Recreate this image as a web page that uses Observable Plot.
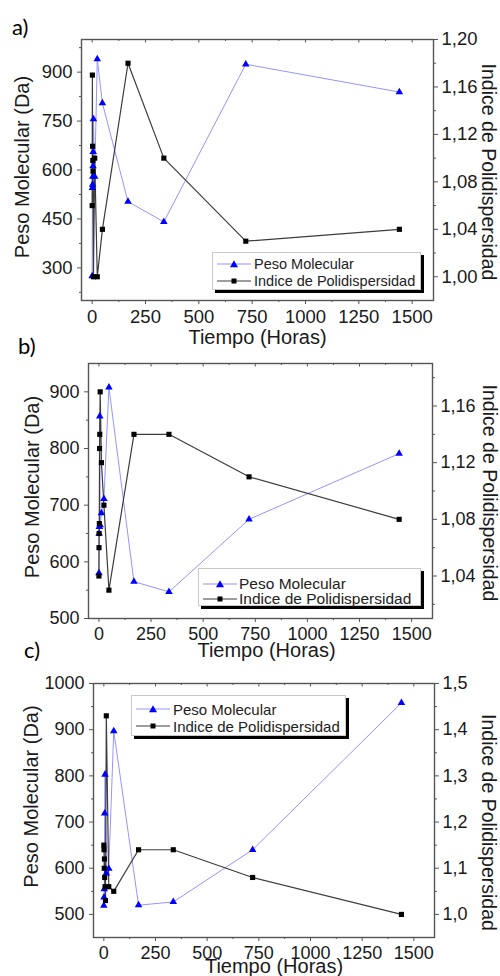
<!DOCTYPE html>
<html><head><meta charset="utf-8">
<script src="https://cdn.jsdelivr.net/npm/d3@7"></script>
<script src="https://cdn.jsdelivr.net/npm/@observablehq/plot@0.6"></script>
<style>
body{margin:0;background:#fff;}
#root{position:relative;width:500px;height:976px;overflow:hidden;font-family:"Liberation Sans",Arial,sans-serif;}
.panel{position:absolute;left:0;}
.tag{position:absolute;font-family:Lato,"Open Sans",sans-serif;font-size:22px;line-height:22px;color:#000;}
.legend{position:absolute;background:#fff;border:1px solid #c8c8c8;box-shadow:3px 3px 0 #000;box-sizing:border-box;}
.legend .row{position:absolute;left:0;height:16px;display:flex;align-items:center;white-space:nowrap;color:#222;}
.legend svg{display:block;}
</style></head><body><div id="root"></div>
<script>
// ---------- data ----------
const panelTags = ["a)", "b)", "c)"];
const xTitle = "Tiempo (Horas)";
const yTitle = "Peso Molecular (Da)";
const y2Title = "Indice de Polidispersidad";
const legendLabels = ["Peso Molecular", "Indice de Polidispersidad"];

const horasDomain = [-50, 1600];
const horasTicks = [0, 250, 500, 750, 1000, 1250, 1500];
const horasMinor = [125, 375, 625, 875, 1125, 1375];

// panel a
const horasPesoA = [0, 1, 2, 3, 4, 5, 6, 12, 24, 48, 168, 336, 720, 1440];
const pesoA      = [275, 545, 555, 580, 612, 656, 756, 580, 940, 805, 503, 441, 924, 839];
const horasPdiA  = [0, 1, 2, 3, 4, 6, 12, 24, 48, 168, 336, 720, 1440];
const pdiA       = [1.06, 1.17, 1.11, 1.098, 1.089, 1.00, 1.10, 1.00, 1.04, 1.18, 1.10, 1.03, 1.04];
const pesoDomainA = [200, 1000];
const pdiDomainA  = [0.98, 1.20];
const pesoTicksA  = [300, 450, 600, 750, 900];
const pesoMinorA  = [225, 375, 525, 675, 825, 975];
const pdiTicksA   = [1.00, 1.04, 1.08, 1.12, 1.16, 1.20];
const pdiMinorA   = [1.02, 1.06, 1.10, 1.14, 1.18];

// panel b
const horasPesoB = [0, 1, 2, 4, 6, 12, 24, 48, 168, 336, 720, 1440];
const pesoB      = [580, 650, 662, 857, 665, 686, 711, 908, 565, 547, 675, 791];
const horasPdiB  = [0, 0.5, 1, 2, 3, 4, 6, 12, 24, 48, 168, 336, 720, 1440];
const pdiB       = [1.04, 1.06, 1.07, 1.077, 1.13, 1.14, 1.17, 1.12, 1.09, 1.03, 1.14, 1.14, 1.11, 1.08];
const pesoDomainB = [500, 950];
const pdiDomainB  = [1.01, 1.19];
const pesoTicksB  = [500, 600, 700, 800, 900];
const pesoMinorB  = [550, 650, 750, 850];
const pdiTicksB   = [1.04, 1.08, 1.12, 1.16];
const pdiMinorB   = [1.02, 1.06, 1.10, 1.14, 1.18];

// panel c
const horasPesoC = [0, 1, 2, 4, 6, 12, 24, 48, 168, 336, 720, 1440];
const pesoC      = [519, 537, 555, 719, 803, 589, 599, 897, 520, 527, 640, 958];
const horasPdiC  = [0, 1, 2, 3, 4, 6, 8, 12, 24, 48, 168, 336, 720, 1440];
const pdiC       = [1.15, 1.14, 1.10, 1.12, 1.08, 1.06, 1.03, 1.43, 1.06, 1.05, 1.14, 1.14, 1.08, 1.00];
const pesoDomainC = [450, 1000];
const pdiDomainC  = [0.95, 1.50];
const pesoTicksC  = [500, 600, 700, 800, 900, 1000];
const pesoMinorC  = [550, 650, 750, 850, 950];
const pdiTicksC   = [1.0, 1.1, 1.2, 1.3, 1.4, 1.5];
const pdiMinorC   = [1.05, 1.15, 1.25, 1.35, 1.45];

// ---------- layout ----------
const panels = [
  {top: 0, height: 350, ml: 81, mr: 67, mt: 39, mb: 50, fs: 18.5, dec: 2,
   horasPeso: horasPesoA, peso: pesoA, horasPdi: horasPdiA, pdi: pdiA,
   pesoDomain: pesoDomainA, pdiDomain: pdiDomainA, pesoTicks: pesoTicksA, pesoMinor: pesoMinorA,
   pdiTicks: pdiTicksA, pdiMinor: pdiMinorA,
   ldx: -59, ldy: -3, rdx: 55, rdy: 2, xdx: 0, xdy: 37,
   tag: {left: 12, top: 16},
   legend: {left: 212, top: 252, width: 209, height: 38, rows: [10.5, 27.5], fs: 14.5, gap: 41}},
  {top: 323, height: 345, ml: 88, mr: 68, mt: 40, mb: 50, fs: 18, dec: 2,
   horasPeso: horasPesoB, peso: pesoB, horasPdi: horasPdiB, pdi: pdiB,
   pesoDomain: pesoDomainB, pdiDomain: pdiDomainB, pesoTicks: pesoTicksB, pesoMinor: pesoMinorB,
   pdiTicks: pdiTicksB, pdiMinor: pdiMinorB,
   ldx: -56, ldy: -4, rdx: 57, rdy: 2, xdx: 6, xdy: 32,
   tag: {left: 18, top: 335},
   legend: {left: 198, top: 568, width: 223, height: 38, rows: [14.5, 29.5], fs: 15.5, gap: 40}},
  {top: 644, height: 332, ml: 93, mr: 66, mt: 39, mb: 39, fs: 18, dec: 1,
   horasPeso: horasPesoC, peso: pesoC, horasPdi: horasPdiC, pdi: pdiC,
   pesoDomain: pesoDomainC, pdiDomain: pdiDomainC, pesoTicks: pesoTicksC, pesoMinor: pesoMinorC,
   pdiTicks: pdiTicksC, pdiMinor: pdiMinorC,
   ldx: -62, ldy: -14, rdx: 54, rdy: 12, xdx: 10, xdy: 29,
   tag: {left: 24, top: 639},
   legend: {left: 131, top: 695, width: 215, height: 41, rows: [13, 30], fs: 15, gap: 41}}
];

const root = document.getElementById("root");
const AX = "#555", TX = "#1a1a1a";
const BLUE = "#0000ff", BLUE_LINE = "#9494ff", BLACK = "#000", BLACK_LINE = "#3c3c3c";

function sample(kind) {
  const line = kind === 0 ? BLUE_LINE : BLACK_LINE;
  const sym = kind === 0
    ? `<path d="M17,3.2L21,10.2L13,10.2Z" fill="${BLUE}"/>`
    : `<rect x="14.5" y="4.5" width="5" height="5" fill="${BLACK}"/>`;
  return `<svg width="34" height="14"><line x1="0" y1="7" x2="34" y2="7" stroke="${line}" stroke-width="1.2"/>${sym}</svg>`;
}

panels.forEach((p, k) => {
  const [l0, l1] = p.pesoDomain, [r0, r1] = p.pdiDomain;
  const toL = r => l0 + (r - r0) * (l1 - l0) / (r1 - r0);
  const fromL = v => r0 + (v - l0) * (r1 - r0) / (l1 - l0);
  const fmt = v => fromL(v).toFixed(p.dec).replace(".", ",");
  const peso = p.horasPeso.map((t, i) => ({t, v: p.peso[i]}));
  const pdi = p.horasPdi.map((t, i) => ({t, v: toL(p.pdi[i])}));
  const fH = p.height - p.mt - p.mb;
  const plain = d => String(d);

  const svg = Plot.plot({
    width: 500, height: p.height,
    marginLeft: p.ml, marginRight: p.mr, marginTop: p.mt, marginBottom: p.mb,
    style: {background: "transparent", overflow: "visible", fontFamily: "'Liberation Sans', Arial, sans-serif", color: TX},
    x: {domain: horasDomain},
    y: {domain: p.pesoDomain},
    marks: [
      // bottom axis
      Plot.axisX({ticks: horasTicks, tickFormat: plain, tickSize: 4, tickPadding: 5, fontSize: p.fs, label: null, stroke: AX, fill: TX}),
      Plot.axisX({ticks: horasMinor, tickSize: 2, tickFormat: () => "", label: null, stroke: AX}),
      // top mirror ticks (inward)
      Plot.tickX(horasTicks, {x: d => d, insetBottom: fH - 3.5, stroke: AX}),
      Plot.tickX(horasMinor, {x: d => d, insetBottom: fH - 2, stroke: AX}),
      // left axis
      Plot.axisY({ticks: p.pesoTicks, tickFormat: plain, tickSize: 4, tickPadding: 5, fontSize: p.fs, label: null, stroke: AX, fill: TX}),
      Plot.axisY({ticks: p.pesoMinor, tickSize: 2, tickFormat: () => "", label: null, stroke: AX}),
      // right axis
      Plot.axisY({anchor: "right", ticks: p.pdiTicks.map(toL), tickFormat: fmt, tickSize: 4, tickPadding: 4, fontSize: p.fs, label: null, stroke: AX, fill: TX}),
      Plot.axisY({anchor: "right", ticks: p.pdiMinor.map(toL), tickSize: 2, tickFormat: () => "", label: null, stroke: AX}),
      Plot.frame({stroke: AX, strokeWidth: 1.4}),
      // series
      Plot.line(peso, {x: "t", y: "v", stroke: BLUE_LINE, strokeWidth: 1}),
      Plot.line(pdi, {x: "t", y: "v", stroke: BLACK_LINE, strokeWidth: 1.2}),
      Plot.dot(peso, {x: "t", y: "v", symbol: "triangle", fill: BLUE, r: 2.8}),
      Plot.dot(pdi, {x: "t", y: "v", symbol: "square", fill: BLACK, r: 2.9}),
      // titles
      Plot.text([yTitle], {text: d => d, frameAnchor: "left", textAnchor: "middle", lineAnchor: "middle", rotate: -90, dx: p.ldx, dy: p.ldy, fontSize: 20, fill: TX}),
      Plot.text([y2Title], {text: d => d, frameAnchor: "right", textAnchor: "middle", lineAnchor: "middle", rotate: 90, dx: p.rdx, dy: p.rdy, fontSize: 19.5, fill: TX}),
      Plot.text([xTitle], {text: d => d, frameAnchor: "bottom", textAnchor: "middle", lineAnchor: "middle", dx: p.xdx, dy: p.xdy, fontSize: 20, fill: TX})
    ]
  });
  svg.classList.add("panel");
  svg.style.top = p.top + "px";
  root.appendChild(svg);

  const tag = document.createElement("div");
  tag.className = "tag";
  tag.textContent = panelTags[k];
  tag.style.left = p.tag.left + "px";
  tag.style.top = p.tag.top + "px";
  root.appendChild(tag);

  const L = p.legend;
  const lg = document.createElement("div");
  lg.className = "legend";
  Object.assign(lg.style, {left: L.left + "px", top: L.top + "px", width: L.width + "px", height: L.height + "px"});
  legendLabels.forEach((lab, i) => {
    const row = document.createElement("div");
    row.className = "row";
    row.style.top = (L.rows[i] - 8) + "px";
    row.style.fontSize = L.fs + "px";
    row.innerHTML = `<span style="width:${L.gap}px;display:inline-block;padding-left:4px;box-sizing:border-box">${sample(i)}</span><span>${lab}</span>`;
    lg.appendChild(row);
  });
  root.appendChild(lg);
});
</script></body></html>
